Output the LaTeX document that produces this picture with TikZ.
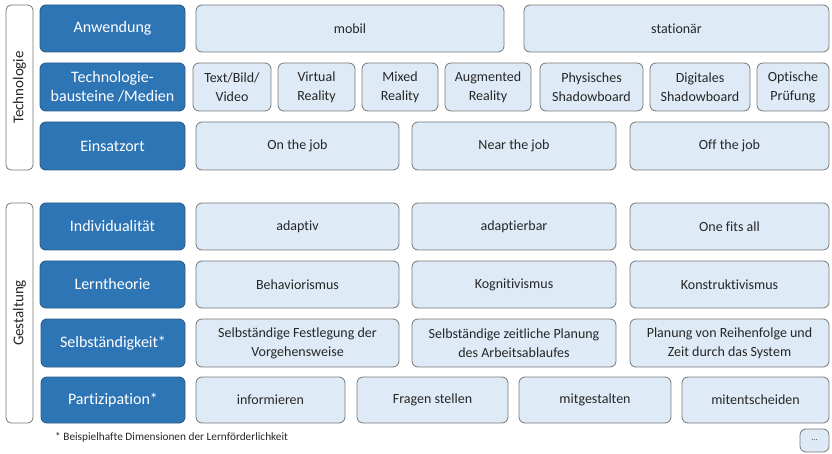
\documentclass[tikz,border=0pt]{standalone}
\usepackage{fontspec}
\setmainfont{Carlito}[Ligatures=NoCommon]
\definecolor{darkfill}{HTML}{2E75B6}
\definecolor{darkline}{HTML}{2A5C8C}
\definecolor{lightfill}{HTML}{DEEBF7}
\definecolor{lightline}{HTML}{767676}
\definecolor{txt}{HTML}{262626}
\newcommand\boxnode[7]{\node[#1, minimum width={(#4)-(#3)}, minimum height={(#6)-(#5)}] (#2) at ({((#3)+(#4))/2},{((#5)+(#6))/2}) {#7};}
\begin{document}
\begin{tikzpicture}[x=1pt,y=-1pt,
  dark/.style={draw=darkline, fill=darkfill, rounded corners=6pt, line width=0.9pt, text=white,
    font=\fontsize{16}{19}\selectfont, align=center, inner sep=0pt},
  light/.style={draw=lightline, fill=lightfill, rounded corners=6pt, line width=0.8pt, text=txt,
    font=\fontsize{14}{19}\selectfont, align=center, inner sep=0pt},
  side/.style={draw=lightline, fill=white, rounded corners=5pt, line width=0.8pt, inner sep=0pt},
  sidetext/.style={rotate=90, text=txt, font=\fontsize{15}{17}\selectfont},
  note/.style={text=txt, font=\fontsize{11.3}{13}\selectfont, anchor=west, inner sep=0pt}]
\useasboundingbox (0,0) rectangle (832,454);
% side labels
\boxnode{side}{techbox}{6}{33}{5}{170}{}
\node[sidetext] (techtxt) at (techbox.center) {Technologie};
\boxnode{side}{gestbox}{6}{33}{203}{423}{}
\node[sidetext] (gesttxt) at (gestbox.center) {Gestaltung};
% dark row heads
\boxnode{dark}{anw}{40}{185}{5}{52}{Anwendung}
\boxnode{dark}{tbm}{40}{185}{63}{111}{Technologie-\\bausteine /Medien}
\boxnode{dark}{eins}{40}{185}{122}{170}{Einsatzort}
\boxnode{dark}{indiv}{40}{185}{203}{250}{Individualität}
\boxnode{dark}{lern}{40}{185}{261}{308}{Lerntheorie}
\boxnode{dark}{selb}{41}{185}{319}{367}{Selbständigkeit*}
\boxnode{dark}{part}{41}{185}{377}{423}{Partizipation*}
% row 1
\boxnode{light}{mobil}{196}{504}{5}{52}{mobil}
\boxnode{light}{stat}{524}{829}{5}{52}{stationär}
% row 2
\boxnode{light}{tbv}{193}{271}{63}{111}{Text/Bild/\\Video}
\boxnode{light}{vr}{278}{355}{63}{111}{Virtual\\Reality}
\boxnode{light}{mr}{362}{438}{63}{111}{Mixed\\Reality}
\boxnode{light}{ar}{445}{531}{63}{111}{Augmented\\Reality}
\boxnode{light}{ps}{540}{643}{63}{111}{Physisches\\Shadowboard}
\boxnode{light}{ds}{650}{750}{63}{111}{Digitales\\Shadowboard}
\boxnode{light}{op}{757}{829}{63}{111}{Optische\\Prüfung}
% row 3
\boxnode{light}{onj}{196}{399}{122}{170}{On the job}
\boxnode{light}{nej}{412}{616}{122}{170}{Near the job}
\boxnode{light}{ofj}{630}{829}{122}{170}{Off the job}
% row 4
\boxnode{light}{adap}{196}{399}{203}{250}{adaptiv}
\boxnode{light}{adapb}{412}{616}{203}{250}{adaptierbar}
\boxnode{light}{ofa}{630}{829}{203}{250}{One fits all}
% row 5
\boxnode{light}{beh}{196}{399}{261}{308}{Behaviorismus}
\boxnode{light}{kog}{412}{616}{261}{308}{Kognitivismus}
\boxnode{light}{kon}{630}{829}{261}{308}{Konstruktivismus}
% row 6
\boxnode{light}{sfv}{196}{399}{319}{367}{Selbständige Festlegung der\\Vorgehensweise}
\boxnode{light}{szp}{412}{616}{319}{367}{Selbständige zeitliche Planung\\des Arbeitsablaufes}
\boxnode{light}{prz}{630}{829}{319}{367}{Planung von Reihenfolge und\\Zeit durch das System}
% row 7
\boxnode{light}{inf}{196}{345}{377}{423}{informieren}
\boxnode{light}{fra}{357}{508}{377}{423}{Fragen stellen}
\boxnode{light}{mit}{519}{671}{377}{423}{mitgestalten}
\boxnode{light}{ment}{682}{829}{377}{423}{mitentscheiden}
% footnote and more box
\node[note] (fn) at (55,437) {* Beispielhafte Dimensionen der Lernförderlichkeit};
\boxnode{light}{more}{800}{829}{429}{452}{\fontsize{8}{9}\selectfont ...}
\end{tikzpicture}
\end{document}
